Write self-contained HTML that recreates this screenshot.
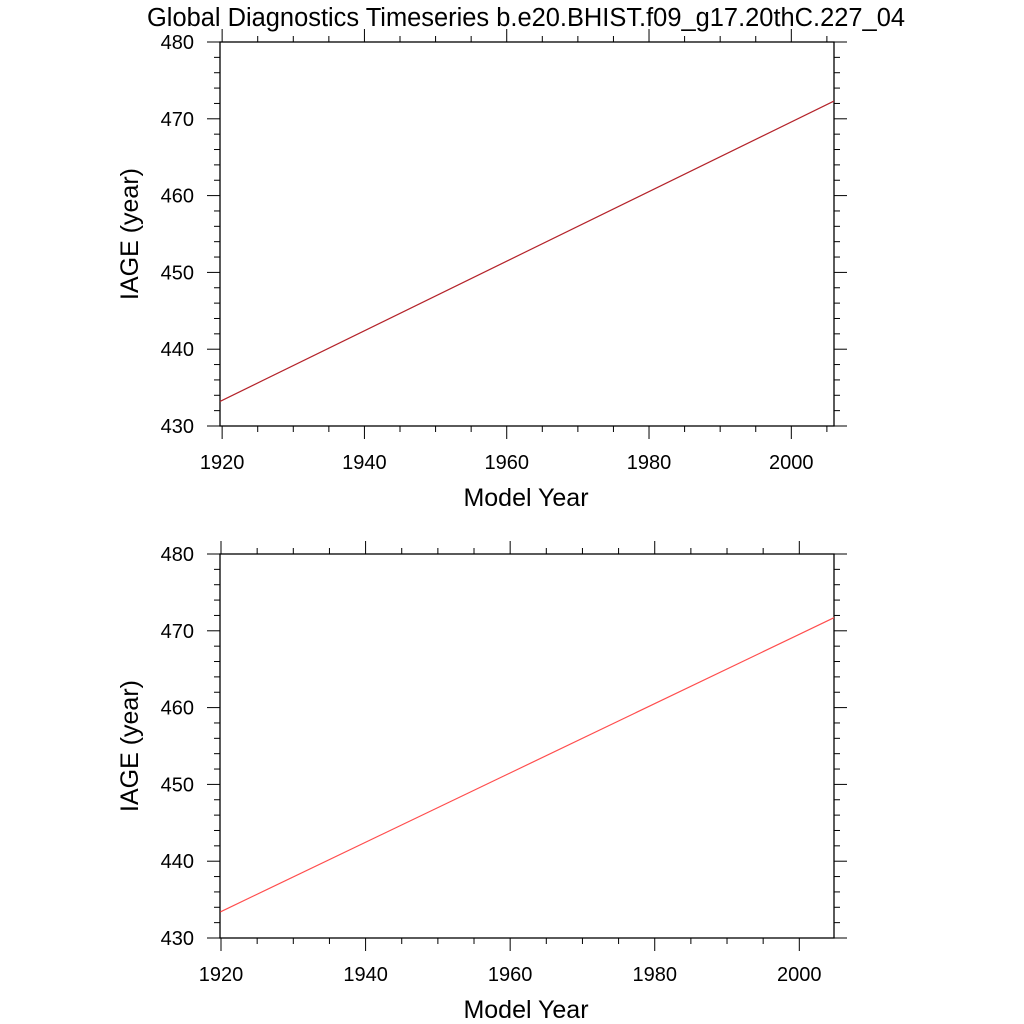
<!DOCTYPE html>
<html><head><meta charset="utf-8"><style>
html,body{margin:0;padding:0;background:#fff;}
svg{display:block;font-family:"Liberation Sans",sans-serif;}
</style></head><body>
<svg id="chart" width="1024" height="1024" viewBox="0 0 1024 1024">
<text x="526" y="26" font-size="25.5" text-anchor="middle" textLength="758" lengthAdjust="spacingAndGlyphs">Global Diagnostics Timeseries b.e20.BHIST.f09_g17.20thC.227_04</text>
</svg>
<script>
const xTicks = [1920, 1940, 1960, 1980, 2000];
const yTicks = [430, 440, 450, 460, 470, 480];
const topYears = [1919.7, 2006.0];
const topValues = [433.2, 472.3];
const bottomYears = [1919.9, 2004.8];
const bottomValues = [433.4, 471.7];

const svg = document.getElementById('chart');
const NS = 'http://www.w3.org/2000/svg';
function mk(tag, attrs, parent){const e=document.createElementNS(NS,tag);for(const k in attrs)e.setAttribute(k,attrs[k]);(parent||svg).appendChild(e);return e;}

function panel(name, top, xmin, xmax, years, values, color){
  const L=220,R=834,T=top,B=top+384;
  const ymin=430,ymax=480;
  const sx=v=>L+(v-xmin)/(xmax-xmin)*(R-L);
  const sy=v=>B-(v-ymin)/(ymax-ymin)*(B-T);
  const g=mk('g',{});
  
  
  for(let v=ymin; v<=ymax+0.01; v+=2){
    const y=sy(v); const major=Math.abs(v%10)<0.01; const len=major?13:6;
    const t1=mk('line',{x1:L-len,x2:L,y1:y,y2:y,stroke:'#000','stroke-width':1},g);
    
    
    const t2=mk('line',{x1:R,x2:R+len,y1:y,y2:y,stroke:'#000','stroke-width':1},g);
    
    
  }
  for(let v=Math.ceil(xmin/5)*5; v<=xmax; v+=5){
    const x=sx(v); const major=v%20===0; const len=major?13:6;
    const t1=mk('line',{x1:x,x2:x,y1:B,y2:B+len,stroke:'#000','stroke-width':1},g);
    
    
    const t2=mk('line',{x1:x,x2:x,y1:T-len,y2:T,stroke:'#000','stroke-width':1},g);
    
    
  }
  yTicks.forEach(v=>{
    const t=mk('text',{x:L-26,y:sy(v)+7,'font-size':20,'text-anchor':'end'},g);
    t.textContent=v;
    
    
  });
  xTicks.forEach(v=>{
    const t=mk('text',{x:sx(v),y:B+43,'font-size':20,'text-anchor':'middle'},g);
    t.textContent=v;
    
    
  });
  const fr=mk('rect',{x:L,y:T,width:R-L,height:B-T,fill:'none',stroke:'#000','stroke-width':1.3},g);
  
  
  const pts=years.map((yr,i)=>sx(yr).toFixed(1)+','+sy(values[i]).toFixed(1)).join(' ');
  const ln=mk('polyline',{points:pts,fill:'none',stroke:color,'stroke-width':1.2},g);
  
  
  const yt=mk('text',{x:0,y:0,'font-size':25,'text-anchor':'middle',transform:`translate(138,${(T+B)/2}) rotate(-90)`},g);
  yt.textContent='IAGE (year)';
  
  
  const xt=mk('text',{x:526,y:B+80,'font-size':25,'text-anchor':'middle'},g);
  xt.textContent='Model Year';
  
  
}
panel('top-panel',42,1919.7,2006.0,topYears,topValues,'#b4232a');
panel('bottom-panel',554,1919.86,2004.8,bottomYears,bottomValues,'#ff4d4d');
</script>
</body></html>
